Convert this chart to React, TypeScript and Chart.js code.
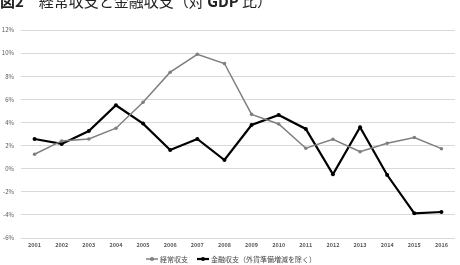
import React, { useEffect, useRef } from "react";
import { Chart, registerables } from "chart.js";

Chart.register(...registerables);

const years = ["2001","2002","2003","2004","2005","2006","2007","2008","2009","2010","2011","2012","2013","2014","2015","2016"];
const currentAccount = [1.25, 2.4, 2.57, 3.5, 5.75, 8.35, 9.9, 9.1, 4.7, 3.87, 1.77, 2.54, 1.47, 2.2, 2.7, 1.73];
const financialAccount = [2.57, 2.14, 3.26, 5.49, 3.9, 1.62, 2.57, 0.75, 3.78, 4.65, 3.44, -0.49, 3.58, -0.55, -3.86, -3.75];
const seriesNames = ["経常収支", "金融収支（外貨準備増減を除く）"];
const titleParts = [
  { t: "図2", bold: true },
  { t: "　経常収支と金融収支（対 ", bold: false },
  { t: "GDP", bold: true },
  { t: " 比）", bold: false },
];

const FONT = "'Noto Sans CJK JP', 'Noto Sans', sans-serif";

const overlay = {
  id: "overlay",
  afterDraw(chart: any) {
    const ctx = chart.ctx;
    ctx.save();
    // title
    let x = 0;
    ctx.fillStyle = "#222";
    ctx.textBaseline = "alphabetic";
    ctx.textAlign = "left";
    for (const p of titleParts) {
      ctx.font = `${p.bold ? "bold " : ""}15px ${FONT}`;
      ctx.fillText(p.t, x, 6.5);
      x += ctx.measureText(p.t).width;
    }
    // legend
    const colors = ["#7f7f7f", "#000000"];
    const widths = [1.5, 2.2];
    const starts = [146, 197];
    ctx.font = `7px ${FONT}`;
    ctx.textBaseline = "middle";
    const ly = 259;
    for (let i = 0; i < 2; i++) {
      const sx = starts[i];
      ctx.strokeStyle = colors[i];
      ctx.lineWidth = widths[i];
      ctx.beginPath();
      ctx.moveTo(sx, ly);
      ctx.lineTo(sx + 12, ly);
      ctx.stroke();
      ctx.fillStyle = colors[i];
      ctx.beginPath();
      ctx.arc(sx + 6, ly, 2, 0, Math.PI * 2);
      ctx.fill();
      ctx.fillStyle = "#444";
      ctx.fillText(seriesNames[i], sx + 14, ly);
    }
    ctx.restore();
  },
};

export default function App() {
  const ref = useRef<HTMLCanvasElement>(null);
  useEffect(() => {
    if (!ref.current) return;
    const chart = new Chart(ref.current, {
      type: "line",
      data: {
        labels: years,
        datasets: [
          {
            label: seriesNames[0],
            data: currentAccount,
            borderColor: "#7f7f7f",
            backgroundColor: "#7f7f7f",
            borderWidth: 1.5,
            pointRadius: 1.8,
            pointBorderWidth: 0,
            tension: 0,
          },
          {
            label: seriesNames[1],
            data: financialAccount,
            borderColor: "#000000",
            backgroundColor: "#000000",
            borderWidth: 2.2,
            pointRadius: 2,
            pointBorderWidth: 0,
            tension: 0,
          },
        ],
      },
      options: {
        responsive: false,
        animation: false,
        devicePixelRatio: 1,
        layout: { padding: { top: 30, bottom: 12, left: 0, right: 5 } },
        plugins: {
          legend: { display: false },
          title: { display: false },
          tooltip: { enabled: false },
        },
        scales: {
          x: {
            offset: true,
            grid: { display: false, drawTicks: false },
            border: { display: false },
            ticks: {
              padding: 4,
              color: "#595959",
              font: { size: 5.5, family: FONT, weight: "bold" },
              maxRotation: 0,
              autoSkip: false,
            },
            afterFit: (s: any) => { s.height = 15; },
          },
          y: {
            min: -6,
            max: 12,
            grid: { color: "#d9d9d9", lineWidth: 1, drawTicks: false },
            border: { display: false },
            ticks: {
              stepSize: 2,
              padding: 7,
              color: "#595959",
              font: { size: 6, family: FONT },
              callback: (v: any) => `${v}%`,
            },
            afterFit: (s: any) => { s.width = 21; },
          },
        },
      },
      plugins: [overlay],
    });
    return () => chart.destroy();
  }, []);
  return (
    <div style={{ position: "absolute", left: 0, top: 0, width: 460, height: 265, background: "#fff" }}>
      <canvas ref={ref} width={460} height={265} />
    </div>
  );
}
